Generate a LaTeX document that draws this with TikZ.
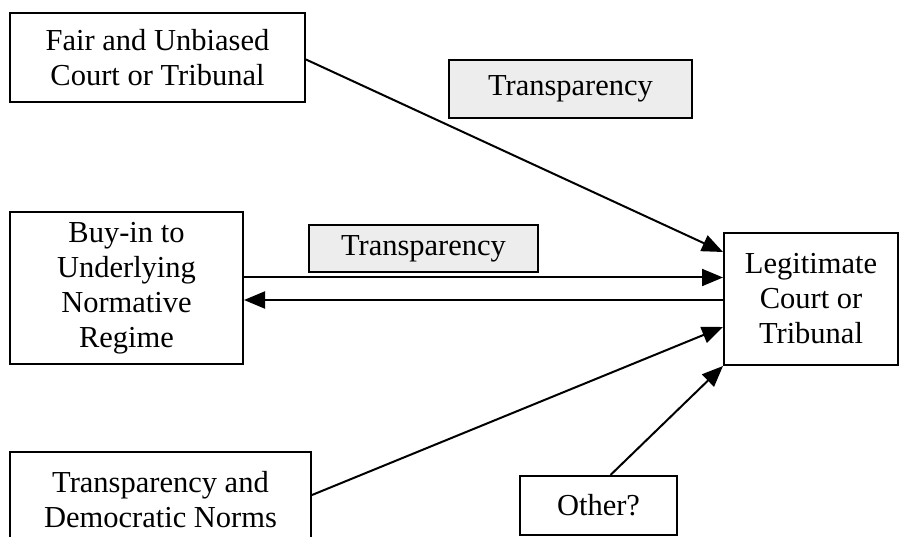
\documentclass[tikz,border=0pt]{standalone}
\usepackage{fontspec}
\setmainfont{Liberation Serif}
\usetikzlibrary{arrows.meta}
\begin{document}
\begin{tikzpicture}[x=1pt,y=-1pt,
  box/.style={draw=black, line width=2pt, fill=white, align=center, inner sep=0pt,
    font=\fontsize{30.5}{35}\selectfont},
  tbox/.style={box, fill=black!7},
  arr/.style={line width=2pt, -{Triangle[length=21pt,width=17pt]}}]
\useasboundingbox (0,0) rectangle (900,537);
\clip (0,0) rectangle (900,537);
\node[box, minimum width=295pt, minimum height=89pt] (fair) at (157.5,57.5) {Fair and Unbiased\\Court or Tribunal};
\node[tbox, minimum width=243pt, minimum height=58pt] (t1) at (570.5,89) {Transparency};
\node[tbox, minimum width=229pt, minimum height=47pt] (t2) at (423.5,248.5) {Transparency};
\node[box, minimum width=233pt, minimum height=152pt] (buy) at (126.5,288) {Buy-in to\\Underlying\\Normative\\Regime};
\node[box, minimum width=174pt, minimum height=132pt] (legit) at (811,299) {Legitimate\\Court or\\Tribunal};
\node[box, minimum width=301pt, minimum height=96pt] (trans) at (160.5,500) {Transparency and\\Democratic Norms};
\node[box, minimum width=157pt, minimum height=59pt] (other) at (598.5,505.5) {Other?};
\coordinate (fe) at ([yshift=-2pt]fair.east);
\coordinate (l1) at ([yshift=47pt]legit.west);
\coordinate (b1) at ([yshift=10.5pt]buy.east);
\coordinate (l2) at ([yshift=-1pt]legit.west);
\coordinate (te) at ([yshift=5pt]trans.east);
\coordinate (l3) at ([yshift=-28pt]legit.west);
\coordinate (ot) at ([xshift=12pt]other.north);
\draw[arr] (fe) -- (l1);
\draw[arr] (b1) -- (legit.west |- b1);
\draw[arr] (l2) -- (buy.east |- l2);
\draw[arr] (te) -- (l3);
\draw[arr] (ot) -- (legit.south west);
\end{tikzpicture}
\end{document}
